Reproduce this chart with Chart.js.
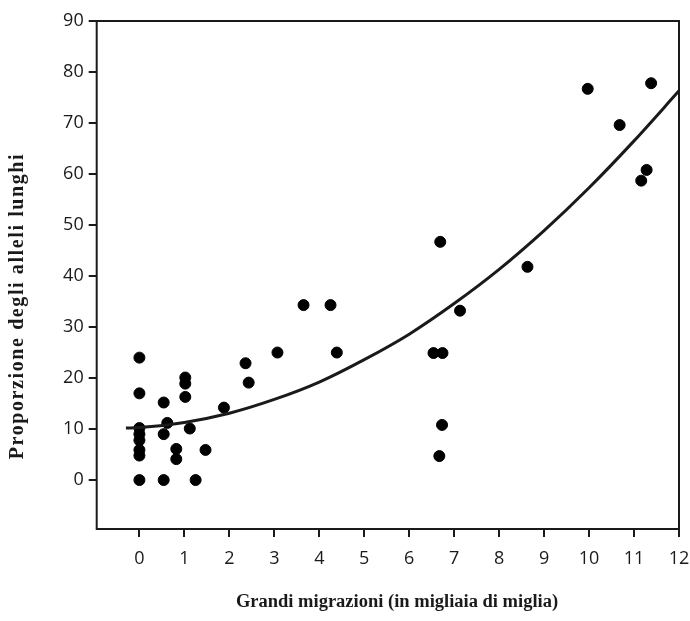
<!DOCTYPE html>
<html>
<head>
<meta charset="utf-8">
<script src="https://cdn.jsdelivr.net/npm/chart.js@4"></script>
<style>
  html, body { margin: 0; padding: 0; background: #fff; }
  #wrap { width: 690px; height: 621px; }
</style>
</head>
<body>
<div id="wrap"><canvas id="grafico"></canvas></div>
<script>
// punti osservati (migliaia di miglia, proporzione %)
const migrazioniX = [0, 0, 0, 0, 0, 0, 0, 0,
  0.54, 0.54, 0.54, 0.62, 0.82, 0.82, 1.02, 1.02, 1.02, 1.12, 1.25, 1.47,
  1.88, 2.36, 2.43, 3.07, 3.65, 4.25, 4.39,
  6.54, 6.74, 6.69, 6.73, 6.67, 7.13, 8.63,
  9.97, 10.68, 11.16, 11.28, 11.38];
const proporzioneY = [24, 17, 10.2, 9, 7.8, 5.9, 4.8, 0,
  15.2, 9, 0, 11.2, 6.1, 4.1, 20.1, 18.9, 16.3, 10.1, 0, 5.9,
  14.2, 22.9, 19.1, 25, 34.3, 34.3, 25,
  24.9, 24.9, 46.7, 10.8, 4.7, 33.2, 41.8,
  76.7, 69.6, 58.7, 60.8, 77.8];

// curva di tendenza
const curvaX = [-0.3, 0, 1, 2, 3, 4, 5, 6, 7, 8, 9, 10, 11, 12];
const curvaY = [10.2, 10.3, 11.3, 13.1, 15.8, 19.2, 23.6, 28.6, 34.6, 41.3, 48.9, 57.3, 66.5, 76.3];

// etichette degli assi
const ticksX = [0, 1, 2, 3, 4, 5, 6, 7, 8, 9, 10, 11, 12];
const ticksY = [0, 10, 20, 30, 40, 50, 60, 70, 80, 90];
const titoloX = "Grandi migrazioni (in migliaia di miglia)";
const titoloY = "Proporzione degli alleli lunghi";

const punti = migrazioniX.map((x, i) => ({ x: x, y: proporzioneY[i] }));
const curva = curvaX.map((x, i) => ({ x: x, y: curvaY[i] }));

const colore = "#1a1a1a";
const fontTick = { family: "Open Sans", size: 18 };

// cornice intorno all'area del grafico + titoli degli assi
const cornice = {
  id: "cornice",
  afterDraw(chart) {
    const { ctx, chartArea } = chart;
    ctx.save();
    ctx.strokeStyle = colore;
    ctx.lineWidth = 2;
    ctx.strokeRect(chartArea.left, chartArea.top,
      chartArea.right - chartArea.left, chartArea.bottom - chartArea.top);
    ctx.restore();

    ctx.save();
    ctx.fillStyle = colore;
    ctx.textAlign = "center";
    ctx.textBaseline = "middle";
    ctx.font = "bold 18.5px 'Liberation Serif'";
    ctx.fillText(titoloX, 397, 602);
    ctx.translate(18, 306);
    ctx.rotate(-Math.PI / 2);
    ctx.font = "bold 20px 'Liberation Serif'";
    ctx.letterSpacing = "1.6px";
    ctx.fillText(titoloY, 0, 0);
    ctx.restore();
  },
};

new Chart(document.getElementById("grafico"), {
  type: "scatter",
  data: {
    datasets: [
      {
        label: "Curva",
        type: "line",
        data: curva,
        borderColor: colore,
        borderWidth: 3,
        pointRadius: 0,
        cubicInterpolationMode: "monotone",
        fill: false,
      },
      {
        label: "Popolazioni",
        data: punti,
        backgroundColor: "#000",
        borderColor: "#000",
        pointRadius: 5.5,
        pointHoverRadius: 5.5,
      },
    ],
  },
  options: {
    responsive: true,
    maintainAspectRatio: false,
    animation: false,
    layout: { padding: { top: 21, right: 11, left: 0, bottom: 0 } },
    plugins: { legend: { display: false }, tooltip: { enabled: false } },
    scales: {
      x: {
        type: "linear",
        min: -0.95,
        max: 12,
        afterBuildTicks: (scale) => {
          scale.ticks = ticksX.map((v) => ({ value: v }));
        },
        afterFit: (scale) => {
          scale.height = 92;
          scale.paddingLeft = 0;
          scale.paddingRight = 0;
        },
        grid: {
          drawOnChartArea: false,
          drawTicks: true,
          tickLength: 8,
          color: colore,
          lineWidth: 2,
        },
        border: { display: false },
        ticks: { color: colore, font: fontTick, padding: 11, maxRotation: 0 },
        title: { display: false },
      },
      y: {
        type: "linear",
        min: -9.6,
        max: 90,
        afterBuildTicks: (scale) => {
          scale.ticks = ticksY.map((v) => ({ value: v }));
        },
        afterFit: (scale) => {
          scale.width = 96.7;
        },
        grid: {
          drawOnChartArea: false,
          drawTicks: true,
          tickLength: 8,
          color: colore,
          lineWidth: 2,
        },
        border: { display: false },
        ticks: { color: colore, font: fontTick, padding: 5 },
        title: { display: false },
      },
    },
  },
  plugins: [cornice],
});
</script>
</body>
</html>
